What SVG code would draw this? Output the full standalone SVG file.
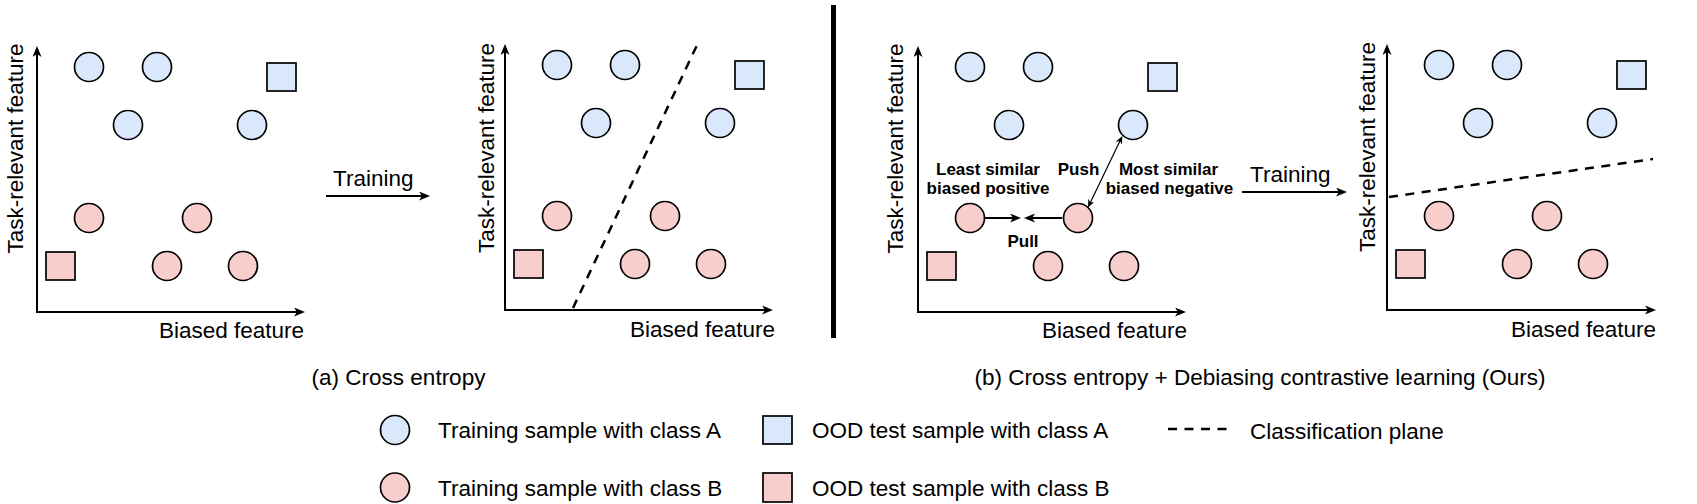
<svg xmlns="http://www.w3.org/2000/svg" width="1697" height="504" viewBox="0 0 1697 504">
<style>
.t{font-family:"Liberation Sans",Arial,Helvetica,sans-serif;font-size:22.5px;fill:#000}
.b{font-family:"Liberation Sans",Arial,Helvetica,sans-serif;font-size:17px;font-weight:bold;fill:#000}
.ca{fill:#dae8fc;stroke:#000;stroke-width:1.7}
.cb{fill:#f8cecc;stroke:#000;stroke-width:1.7}
.ax{fill:none;stroke:#000;stroke-width:2}
.thin{fill:none;stroke:#000;stroke-width:1.2}
.dash{fill:none;stroke:#000;stroke-width:2.5;stroke-dasharray:9 7.5}
</style>
<defs>
<marker id="arr" markerUnits="userSpaceOnUse" viewBox="0 0 12 10" markerWidth="12" markerHeight="10" refX="6" refY="4.5" orient="auto-start-reverse"><path d="M0,0 L11,4.5 L0,9 L3,4.5 Z" fill="#000"/></marker>
<marker id="arrS" markerUnits="userSpaceOnUse" viewBox="0 0 9 8" markerWidth="9" markerHeight="8" refX="5" refY="3.5" orient="auto-start-reverse"><path d="M0,0 L8,3.5 L0,7 L2.5,3.5 Z" fill="#000"/></marker>
</defs>

<g id="connectors">
<path class="ax" d="M37,51 V312 H300" marker-start="url(#arr)" marker-end="url(#arr)"/>
<path class="ax" d="M505,49 V310 H768" marker-start="url(#arr)" marker-end="url(#arr)"/>
<path class="ax" d="M918,51 V312 H1181" marker-start="url(#arr)" marker-end="url(#arr)"/>
<path class="ax" d="M1387,49 V310 H1651" marker-start="url(#arr)" marker-end="url(#arr)"/>
<path class="ax" d="M326,196 H425" marker-end="url(#arr)"/>
<path class="ax" d="M1242,192 H1342" marker-end="url(#arr)"/>
<path class="ax" d="M985,218 H1016" marker-end="url(#arr)"/>
<path class="ax" d="M1062,218 H1029" marker-end="url(#arr)"/>
<path class="thin" d="M1089.3,204.8 L1121,138.7" marker-start="url(#arrS)" marker-end="url(#arrS)"/>
<path class="dash" d="M573,308 L698,43"/>
<path class="dash" d="M1389,197 L1653,159"/>
<line x1="833.5" y1="5" x2="833.5" y2="338" stroke="#000" stroke-width="5"/>
</g>

<g id="panel-a1">
<g id="a1-ca1"><circle class="ca" cx="89" cy="67" r="14.5"/></g>
<g id="a1-ca2"><circle class="ca" cx="157" cy="67" r="14.5"/></g>
<g id="a1-ca3"><circle class="ca" cx="128" cy="125" r="14.5"/></g>
<g id="a1-ca4"><circle class="ca" cx="252" cy="125" r="14.5"/></g>
<g id="a1-sa"><rect class="ca" x="267" y="63" width="29" height="28"/></g>
<g id="a1-cb1"><circle class="cb" cx="89" cy="218" r="14.5"/></g>
<g id="a1-cb2"><circle class="cb" cx="197" cy="218" r="14.5"/></g>
<g id="a1-cb3"><circle class="cb" cx="167" cy="266" r="14.5"/></g>
<g id="a1-cb4"><circle class="cb" cx="243" cy="266" r="14.5"/></g>
<g id="a1-sb"><rect class="cb" x="46" y="252" width="29" height="28"/></g>
<text class="t" transform="translate(23,148.5) rotate(-90)" text-anchor="middle">Task-relevant feature</text>
<text class="t" x="304" y="337.5" text-anchor="end">Biased feature</text>
<text class="t" x="333" y="186">Training</text>
</g>

<g id="panel-a2">
<g id="a2-ca1"><circle class="ca" cx="557" cy="65" r="14.5"/></g>
<g id="a2-ca2"><circle class="ca" cx="625" cy="65" r="14.5"/></g>
<g id="a2-ca3"><circle class="ca" cx="596" cy="123" r="14.5"/></g>
<g id="a2-ca4"><circle class="ca" cx="720" cy="123" r="14.5"/></g>
<g id="a2-sa"><rect class="ca" x="735" y="61" width="29" height="28"/></g>
<g id="a2-cb1"><circle class="cb" cx="557" cy="216" r="14.5"/></g>
<g id="a2-cb2"><circle class="cb" cx="665" cy="216" r="14.5"/></g>
<g id="a2-cb3"><circle class="cb" cx="635" cy="264" r="14.5"/></g>
<g id="a2-cb4"><circle class="cb" cx="711" cy="264" r="14.5"/></g>
<g id="a2-sb"><rect class="cb" x="514" y="250" width="29" height="28"/></g>
<text class="t" transform="translate(494,148) rotate(-90)" text-anchor="middle">Task-relevant feature</text>
<text class="t" x="775" y="336.5" text-anchor="end">Biased feature</text>
</g>

<g id="panel-b1">
<g id="b1-ca1"><circle class="ca" cx="970" cy="67" r="14.5"/></g>
<g id="b1-ca2"><circle class="ca" cx="1038" cy="67" r="14.5"/></g>
<g id="b1-ca3"><circle class="ca" cx="1009" cy="125" r="14.5"/></g>
<g id="b1-ca4"><circle class="ca" cx="1133" cy="125" r="14.5"/></g>
<g id="b1-sa"><rect class="ca" x="1148" y="63" width="29" height="28"/></g>
<g id="b1-cb1"><circle class="cb" cx="970" cy="218" r="14.5"/></g>
<g id="b1-cb2"><circle class="cb" cx="1078" cy="218" r="14.5"/></g>
<g id="b1-cb3"><circle class="cb" cx="1048" cy="266" r="14.5"/></g>
<g id="b1-cb4"><circle class="cb" cx="1124" cy="266" r="14.5"/></g>
<g id="b1-sb"><rect class="cb" x="927" y="252" width="29" height="28"/></g>
<text class="t" transform="translate(903,148.5) rotate(-90)" text-anchor="middle">Task-relevant feature</text>
<text class="t" x="1187" y="337.5" text-anchor="end">Biased feature</text>
<text class="b" x="988" y="175" text-anchor="middle">Least similar</text>
<text class="b" x="988" y="194" text-anchor="middle">biased positive</text>
<text class="b" x="1078.5" y="175" text-anchor="middle">Push</text>
<text class="b" x="1168.5" y="175" text-anchor="middle">Most similar</text>
<text class="b" x="1169.5" y="194" text-anchor="middle">biased negative</text>
<text class="b" x="1023" y="247" text-anchor="middle">Pull</text>
<text class="t" x="1250" y="181.5">Training</text>
</g>

<g id="panel-b2">
<g id="b2-ca1"><circle class="ca" cx="1439" cy="65" r="14.5"/></g>
<g id="b2-ca2"><circle class="ca" cx="1507" cy="65" r="14.5"/></g>
<g id="b2-ca3"><circle class="ca" cx="1478" cy="123" r="14.5"/></g>
<g id="b2-ca4"><circle class="ca" cx="1602" cy="123" r="14.5"/></g>
<g id="b2-sa"><rect class="ca" x="1617" y="61" width="29" height="28"/></g>
<g id="b2-cb1"><circle class="cb" cx="1439" cy="216" r="14.5"/></g>
<g id="b2-cb2"><circle class="cb" cx="1547" cy="216" r="14.5"/></g>
<g id="b2-cb3"><circle class="cb" cx="1517" cy="264" r="14.5"/></g>
<g id="b2-cb4"><circle class="cb" cx="1593" cy="264" r="14.5"/></g>
<g id="b2-sb"><rect class="cb" x="1396" y="250" width="29" height="28"/></g>
<text class="t" transform="translate(1375,147) rotate(-90)" text-anchor="middle">Task-relevant feature</text>
<text class="t" x="1656" y="336.5" text-anchor="end">Biased feature</text>
</g>

<g id="captions">
<text class="t" x="398.5" y="385" text-anchor="middle">(a) Cross entropy</text>
<text class="t" x="1260" y="385" text-anchor="middle">(b) Cross entropy + Debiasing contrastive learning (Ours)</text>
</g>

<g id="legend">
<g id="leg-train-a"><circle class="ca" cx="395" cy="430" r="14.5"/><text class="t" x="438" y="438">Training sample with class A</text></g>
<g id="leg-train-b"><circle class="cb" cx="395" cy="487.5" r="14.5"/><text class="t" x="438" y="495.5">Training sample with class B</text></g>
<g id="leg-ood-a"><rect class="ca" x="763" y="416" width="29" height="28"/><text class="t" x="812" y="438">OOD test sample with class A</text></g>
<g id="leg-ood-b"><rect class="cb" x="763" y="473" width="29" height="29"/><text class="t" x="812" y="495.5">OOD test sample with class B</text></g>
<g id="leg-plane"><path class="dash" d="M1168,429 H1227"/><text class="t" x="1250" y="438.5">Classification plane</text></g>
</g>
</svg>
